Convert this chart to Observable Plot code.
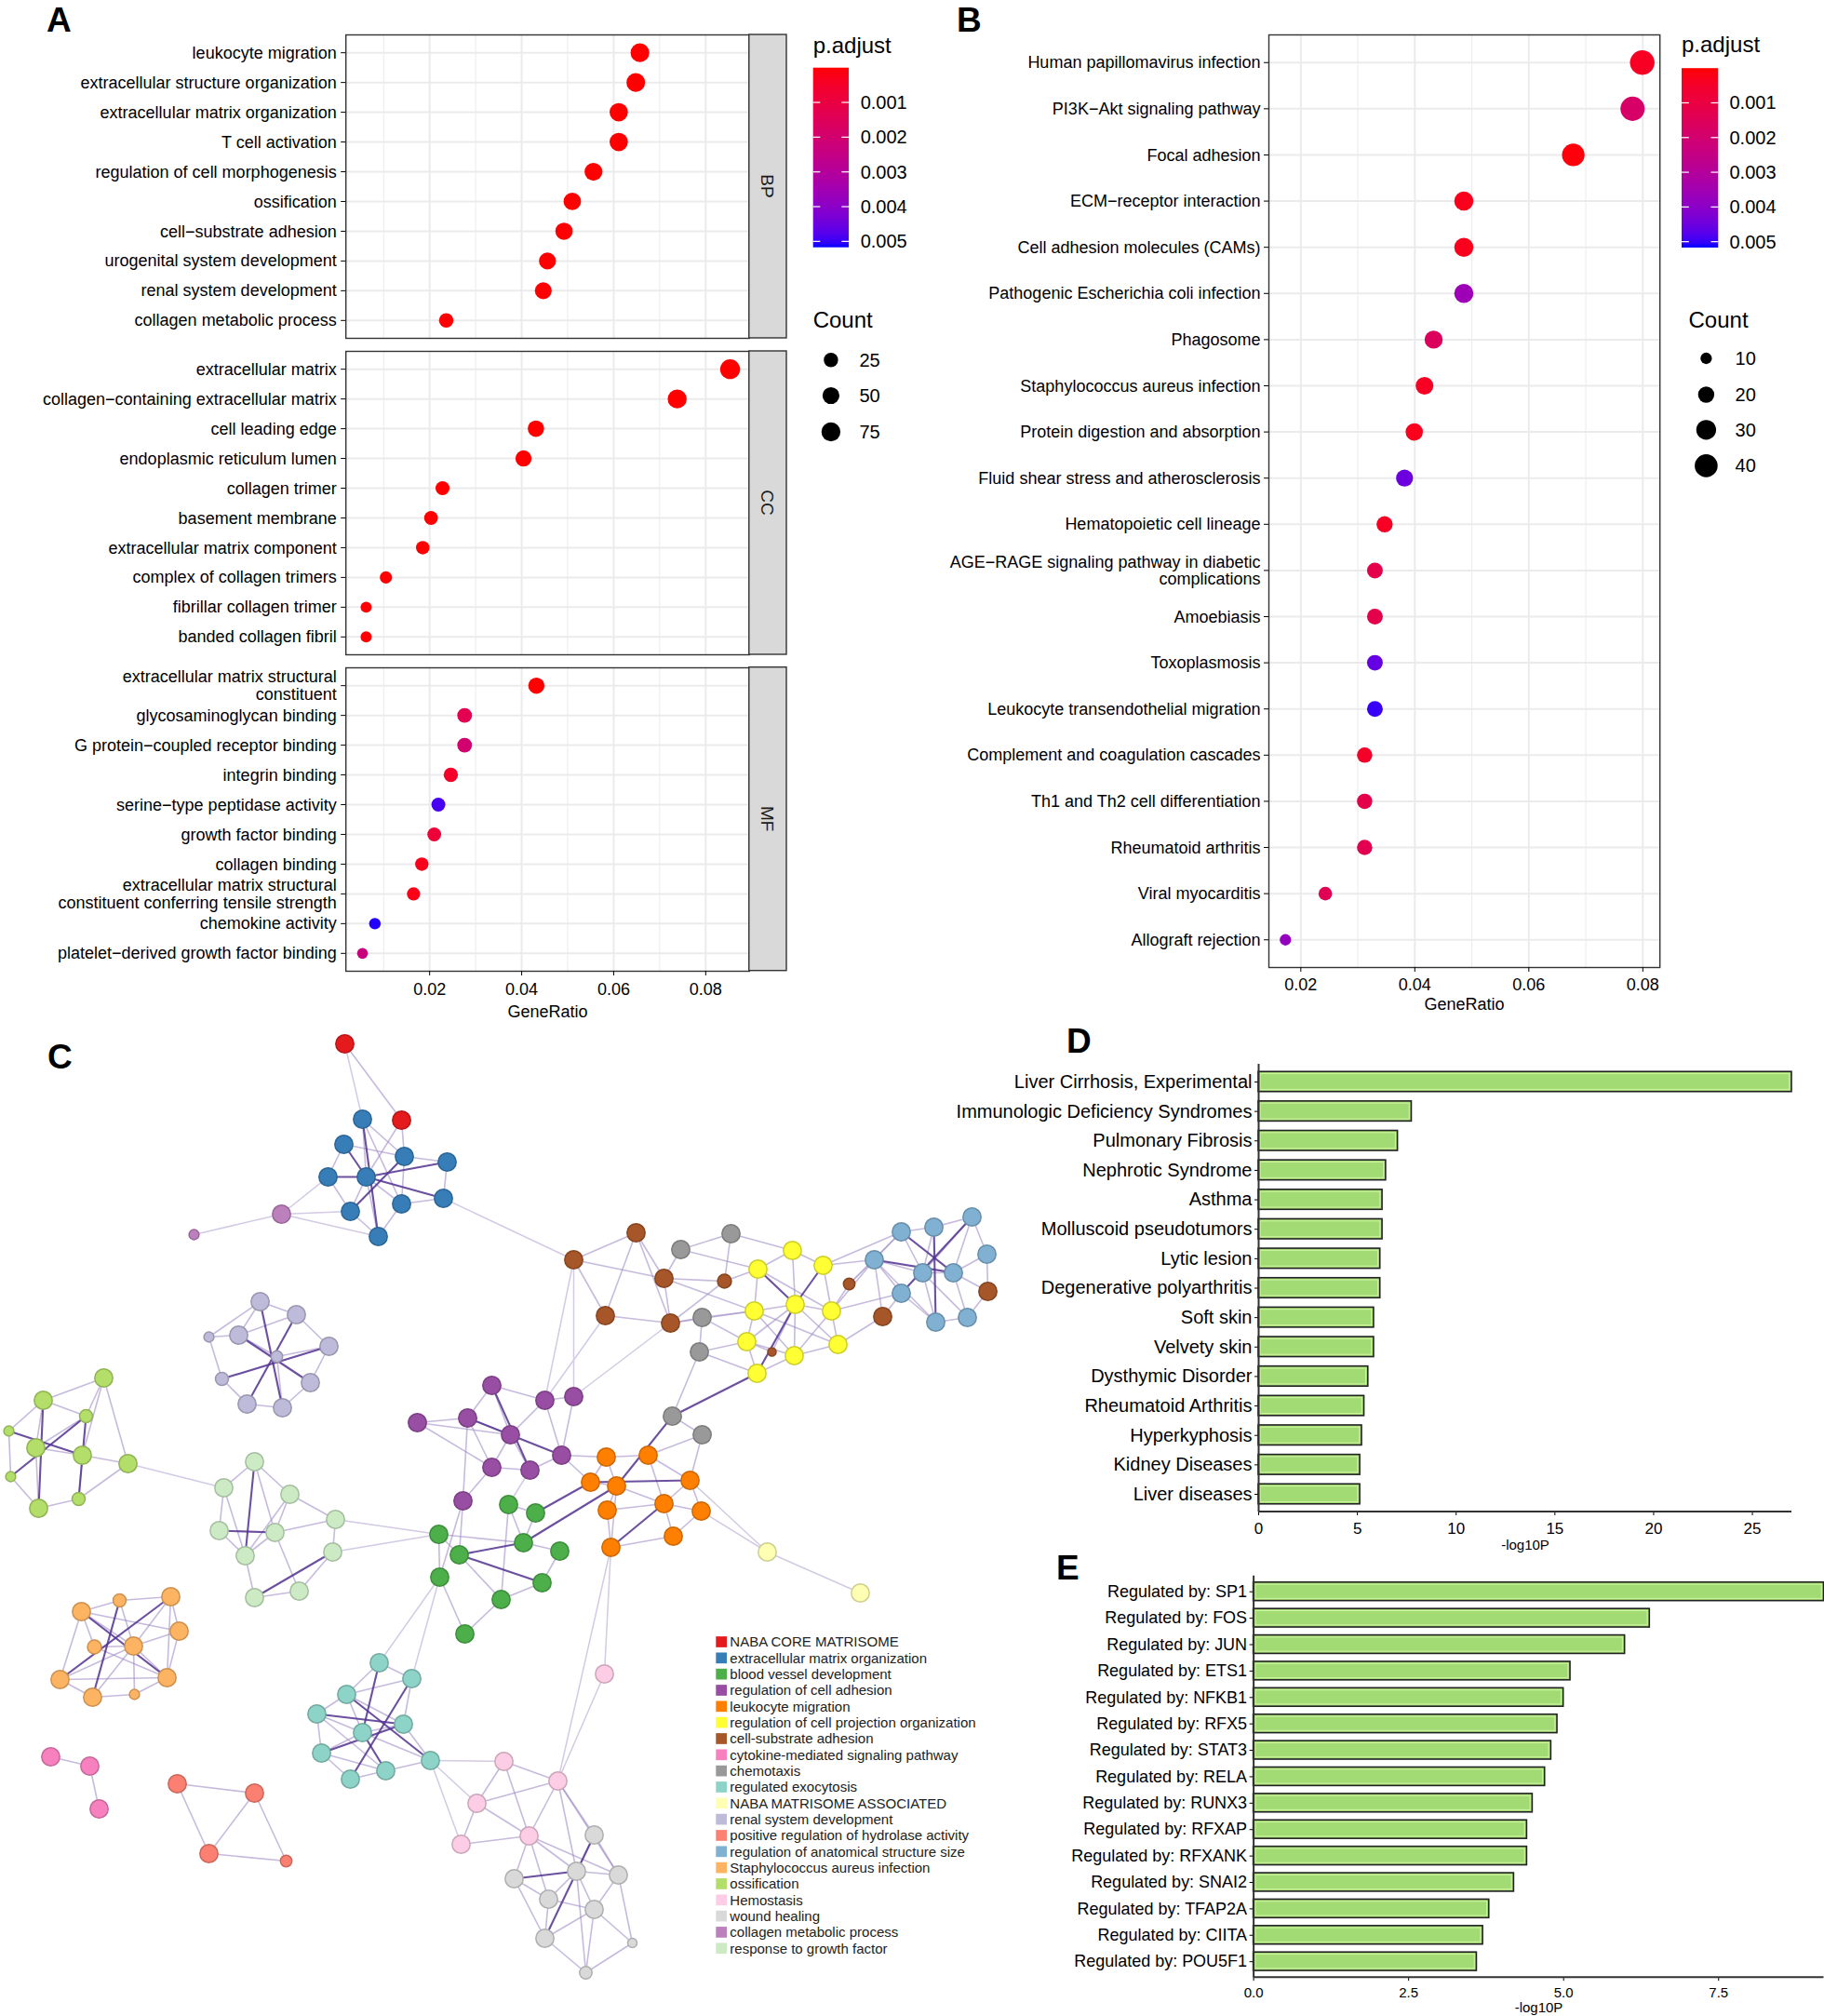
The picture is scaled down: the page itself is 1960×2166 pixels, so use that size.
<!DOCTYPE html>
<html><head><meta charset="utf-8">
<script src="https://cdn.jsdelivr.net/npm/d3@7"></script>
<script src="https://cdn.jsdelivr.net/npm/@observablehq/plot@0.6"></script>
<style>
html,body{margin:0;padding:0;background:#fff;}
#fig{position:relative;width:1960px;height:2166px;overflow:hidden;background:#fff;}
</style></head>
<body><div id="fig"></div>
<script>
// ---------------- DATA ----------------
// Panel A : GO enrichment (BP / CC / MF)
const bpTerms = ["leukocyte migration","extracellular structure organization","extracellular matrix organization","T cell activation","regulation of cell morphogenesis","ossification","cell\u2212substrate adhesion","urogenital system development","renal system development","collagen metabolic process"];
const bpRatio = [0.0657,0.0648,0.0611,0.0611,0.0556,0.0510,0.0492,0.0456,0.0447,0.0236];
const bpCount = [72,71,67,67,61,56,54,50,49,26];
const bpPadj  = [0.00001,0.00001,0.00001,0.00001,0.00001,0.00001,0.00002,0.00002,0.00002,0.00003];

const ccTerms = ["extracellular matrix","collagen\u2212containing extracellular matrix","cell leading edge","endoplasmic reticulum lumen","collagen trimer","basement membrane","extracellular matrix component","complex of collagen trimers","fibrillar collagen trimer","banded collagen fibril"];
const ccRatio = [0.0853,0.0738,0.0431,0.0404,0.0228,0.0203,0.0185,0.0105,0.0062,0.0062];
const ccCount = [88,76,44,42,23,21,19,11,6,6];
const ccPadj  = [0.00001,0.00001,0.00001,0.00002,0.00001,0.00002,0.00002,0.00003,0.00003,0.00003];

const mfTerms = ["extracellular matrix structural\nconstituent","glycosaminoglycan binding","G protein\u2212coupled receptor binding","integrin binding","serine\u2212type peptidase activity","growth factor binding","collagen binding","extracellular matrix structural\nconstituent conferring tensile strength","chemokine activity","platelet\u2212derived growth factor binding"];
const mfRatio = [0.0432,0.0276,0.0276,0.0246,0.0219,0.0210,0.0183,0.0165,0.0081,0.0054];
const mfCount = [43,28,28,25,22,21,18,17,8,5];
const mfPadj  = [0.00001,0.0013,0.0020,0.0005,0.0049,0.0008,0.0003,0.0002,0.0051,0.0023];

// Panel B : KEGG
const keggTerms = ["Human papillomavirus infection","PI3K\u2212Akt signaling pathway","Focal adhesion","ECM\u2212receptor interaction","Cell adhesion molecules (CAMs)","Pathogenic Escherichia coli infection","Phagosome","Staphylococcus aureus infection","Protein digestion and absorption","Fluid shear stress and atherosclerosis","Hematopoietic cell lineage","AGE\u2212RAGE signaling pathway in diabetic\ncomplications","Amoebiasis","Toxoplasmosis","Leukocyte transendothelial migration","Complement and coagulation cascades","Th1 and Th2 cell differentiation","Rheumatoid arthritis","Viral myocarditis","Allograft rejection"];
const keggRatio = [0.0799,0.0782,0.0678,0.0486,0.0486,0.0486,0.0433,0.0417,0.0399,0.0382,0.0347,0.0330,0.0330,0.0330,0.0330,0.0312,0.0312,0.0312,0.0243,0.0173];
const keggCount = [46,45,39,28,28,28,25,24,23,22,20,19,19,19,19,18,18,18,14,10];
const keggPadj  = [0.0004,0.0018,0.0001,0.0003,0.0003,0.0036,0.0016,0.0004,0.0003,0.0045,0.0004,0.0012,0.0012,0.0046,0.0050,0.0005,0.0012,0.0013,0.0014,0.0038];

const pBreaks = [0.001,0.002,0.003,0.004,0.005];
const pMax = 0.00517;
const countBreaksA = [25,50,75];
const countBreaksB = [10,20,30,40];
const ratioTicks = [0.02,0.04,0.06,0.08];

// Panel D : DisGeNET
const disTerms = ["Liver Cirrhosis, Experimental","Immunologic Deficiency Syndromes","Pulmonary Fibrosis","Nephrotic Syndrome","Asthma","Molluscoid pseudotumors","Lytic lesion","Degenerative polyarthritis","Soft skin","Velvety skin","Dysthymic Disorder","Rheumatoid Arthritis","Hyperkyphosis","Kidney Diseases","Liver diseases"];
const disLogP  = [27.0,7.75,7.05,6.45,6.27,6.27,6.16,6.16,5.84,5.84,5.55,5.35,5.23,5.14,5.14];
const disTicks = [0,5,10,15,20,25];

// Panel E : TRRUST
const tfTerms = ["Regulated by: SP1","Regulated by: FOS","Regulated by: JUN","Regulated by: ETS1","Regulated by: NFKB1","Regulated by: RFX5","Regulated by: STAT3","Regulated by: RELA","Regulated by: RUNX3","Regulated by: RFXAP","Regulated by: RFXANK","Regulated by: SNAI2","Regulated by: TFAP2A","Regulated by: CIITA","Regulated by: POU5F1"];
const tfLogP  = [9.2,6.39,5.99,5.11,5.00,4.90,4.80,4.70,4.50,4.41,4.41,4.20,3.80,3.70,3.60];
const tfTicks = [0,2.5,5,7.5];

// Panel C : Metascape network
const netClusters = ["NABA CORE MATRISOME","extracellular matrix organization","blood vessel development","regulation of cell adhesion","leukocyte migration","regulation of cell projection organization","cell-substrate adhesion","cytokine-mediated signaling pathway","chemotaxis","regulated exocytosis","NABA MATRISOME ASSOCIATED","renal system development","positive regulation of hydrolase activity","regulation of anatomical structure size","Staphylococcus aureus infection","ossification","Hemostasis","wound healing","collagen metabolic process","response to growth factor"];
const netColors = ["#E41A1C","#377EB8","#4DAF4A","#984EA3","#FF7F00","#FFFF33","#A65628","#F781BF","#999999","#8DD3C7","#FFFFB3","#BEBADA","#FB8072","#80B1D3","#FDB462","#B3DE69","#FCCDE5","#D9D9D9","#BC80BD","#CCEBC5"];
// [id, cluster, layoutX, layoutY, size]
const netNodes = [
["r1",0,370,21],["r2",0,431,103],
["b1",1,389,102],["b2",1,369,129],["b3",1,434,142],["b4",1,480,148],["b5",1,352,164],["b6",1,393,164],["b7",1,431,193],["b8",1,476,187],["b9",1,376,201],["b10",1,406,228],
["d1",2,471,548],["d2",2,493,570],["d3",2,472,594],["d4",2,546,516],["d5",2,562,557],["d6",2,538,618],["d7",2,499,655],["d8",2,601,566],["d9",2,582,600],["d10",2,575,525],
["p1",3,528,388],["p2",3,448,428],["p3",3,502,423],["p4",3,548,441],["p5",3,528,476],["p6",3,497,512],["p7",3,585,404],["p8",3,616,400],["p9",3,603,463],["p10",3,569,479],
["e1",4,651,465],["e2",4,696,463],["e3",4,634,492],["e4",4,662,496],["e5",4,741,490],["e6",4,652,522],["e7",4,713,515],["e8",4,753,523],["e9",4,723,550],["e10",4,656,562],
["k1",5,851,243],["k2",5,814,263],["k3",5,884,259],["k4",5,854,301],["k5",5,810,308],["k6",5,893,308],["k7",5,802,341],["k8",5,900,344],["k9",5,853,356],["k10",5,813,375],
["w1",6,683,224],["w2",6,616,253],["w3",6,713,273],["w4",6,778,276,7.5],["w5",6,650,313],["w6",6,720,321],["w7",6,912,279,6.2],["w8",6,948,314],["w9",6,829,352,4.5],["w10",6,1061,287],
["s1",7,54,787],["s2",7,96,797],["s3",7,106,843],
["h1",8,731,242],["h2",8,785,225],["h3",8,754,315],["h4",8,751,352],["h5",8,722,421],["h6",8,754,441],
["t1",9,407,686],["t2",9,442,703],["t3",9,372,720],["t4",9,340,741],["t5",9,433,752],["t6",9,389,761],["t7",9,345,783],["t8",9,414,802],["t9",9,376,811],["t10",9,462,791],
["x1",10,824,567],["x2",10,924,611],
["n1",11,279,298],["n2",11,318,312],["n3",11,256,334],["n4",11,224,336,5.4],["n5",11,353,346],["n6",11,297,357,6.2],["n7",11,238,381,7],["n8",11,333,385],["n9",11,265,408],["n10",11,303,412],
["z1",12,190,816],["z2",12,273,826],["z3",12,224,891],["z4",12,307,899,6.2],
["a1",13,968,223],["a2",13,1003,218],["a3",13,1044,207],["a4",13,939,253],["a5",13,1060,247],["a6",13,991,267],["a7",13,1024,267],["a8",13,968,289],["a9",13,1005,320],["a10",13,1039,315],
["f1",14,87,631],["f2",14,128,619,7],["f3",14,183,615],["f4",14,192,652],["f5",14,101,669,7.5],["f6",14,143,668],["f7",14,64,704],["f8",14,179,702],["f9",14,99,723],["f10",14,144,720,5.4],
["o1",15,111,380],["o2",15,46,404],["o3",15,92,421,7],["o4",15,9,437,5.4],["o5",15,38,455],["o6",15,88,463],["o7",15,137,472],["o8",15,11,486,5.4],["o9",15,84,510,7],["o10",15,41,520],
["m1",16,649,698],["m2",16,541,792],["m3",16,599,813],["m4",16,512,837],["m5",16,495,881],["m6",16,568,872],
["q1",17,638,871],["q2",17,552,918],["q3",17,619,910],["q4",17,664,914],["q5",17,589,940],["q6",17,638,951],["q7",17,585,982],["q8",17,679,987,5],["q9",17,629,1019,6.7],
["c1",18,302,204],["c2",18,208,226,5.4],
["g1",19,273,470],["g2",19,240,498],["g3",19,311,505],["g4",19,235,544],["g5",19,295,546],["g6",19,360,532],["g7",19,263,571],["g8",19,357,567],["g9",19,273,616],["g10",19,321,609]
];
const edgesStrong = ["b2-b6","b6-b4","b5-b6","b3-b9","b6-b8","b1-b10","n3-n8","n5-n7","n1-n10","n2-n9","o4-o6","o2-o10","o8-o3","o3-o9","g1-g7","g9-g8","g4-g5","p1-p10","p3-p9","d2-d5","d2-d9","d10-e3","d5-e4","e3-e5","e10-e7","h5-e4","h5-k10","k2-k4","k3-k4","k4-k10","a2-a9","a1-a7","a3-a8","a4-a7","t1-t6","t2-t9","t3-t10","t4-t5","t7-t5","t6-t8","f1-f8","f3-f7","f2-f9","q2-q3","q1-q7"];
const edgesLight = ["r1-r2","r2-b3","r2-b6","b1-b6","b1-b3","b3-b4","b3-b7","b4-b8","b5-b9","b6-b9","b6-b10","b7-b8","b7-b10","b9-b10","b2-b5","b1-b7","b6-b7","b2-b3",
"n1-n2","n1-n3","n3-n4","n4-n7","n2-n5","n5-n8","n8-n10","n9-n10","n7-n9","n3-n6","n6-n10","n4-n1","n2-n3","n6-n5",
"o1-o2","o1-o3","o1-o7","o2-o4","o2-o5","o3-o5","o5-o6","o6-o9","o7-o9","o8-o10","o9-o10","o4-o8","o2-o3","o1-o6","o5-o10","o6-o7",
"g1-g2","g2-g4","g2-g7","g3-g5","g3-g7","g4-g7","g5-g7","g6-g8","g6-g5","g7-g9","g9-g10","g8-g10","g5-g10","g3-g6","g1-g3","g1-g5",
"p1-p3","p1-p4","p1-p7","p2-p3","p2-p4","p3-p4","p4-p5","p4-p10","p5-p6","p5-p10","p7-p8","p7-p9","p8-p9","p9-p10","p3-p5","p4-p7","p2-p5","p3-p6",
"d1-d2","d1-d3","d3-d7","d4-d10","d4-d5","d5-d10","d5-d8","d8-d9","d6-d9","d6-d7","d4-d6","d1-d5","d2-d6","d2-p6","d3-p6",
"e1-e2","e1-e3","e1-e4","e2-e5","e3-e4","e4-e6","e6-e7","e7-e8","e5-e7","e5-e8","e8-e9","e9-e10","e6-e10","e7-e9","e4-e10","e2-e7","e1-p9","e3-p9","e4-e7",
"h1-h2","h3-h4","h5-h6","h6-e5","h6-e2","h4-h5",
"w1-w2","w1-w3","w2-w5","w1-w5","w3-w6","w5-w6","w1-w6","w2-w3","w3-w4","w6-w4","w3-h1","w4-k2","w4-h2","w6-h3","w6-k5","w3-k5",
"k1-k2","k1-k3","k1-k4","k4-k5","k4-k6","k4-k7","k4-k8","k4-k9","k5-k7","k7-k10","k9-k10","k6-k8","k2-k5","k3-k6","k5-k9","k7-k9","k8-k9","w9-k4","w9-k7","k6-k9","k5-k8","k2-k6",
"h3-k5","h4-k7","h3-k7","h4-k10","h1-k2","h2-k1","k6-a4","k3-a4","w7-k6","k8-w8","k3-a1","k6-a8","w7-a1",
"a1-a2","a2-a3","a1-a4","a1-a6","a2-a6","a3-a6","a3-a7","a3-a5","a4-a6","a4-a8","a5-a7","a6-a7","a6-a9","a7-a10","a7-w10","a8-a9","a9-a10","a10-w10","a5-w10","a4-a9","a6-a10","w8-a8","w8-a4",
"t1-t3","t1-t2","t2-t3","t3-t4","t3-t6","t3-t5","t4-t6","t4-t7","t5-t6","t5-t10","t6-t7","t7-t9","t7-t8","t8-t10","t8-t9","t4-t8","t2-t5","t6-t10",
"m2-m4","m2-m6","m4-m5","m4-m6","m4-m3","m5-m6","m3-m6","m2-m3","m3-q1","m3-q4","m6-q4","m6-q5","m6-q3","m3-q3","m6-q2",
"q1-q3","q1-q4","q3-q4","q3-q5","q3-q6","q2-q5","q5-q6","q5-q7","q6-q7","q4-q6","q7-q9","q6-q8","q3-q9","q8-q9","q4-q8","q2-q7","q6-q9",
"f1-f2","f1-f4","f1-f5","f1-f6","f1-f7","f2-f3","f2-f6","f3-f4","f4-f6","f4-f8","f5-f6","f5-f8","f6-f7","f6-f8","f6-f9","f7-f8","f7-f9","f8-f10","f9-f10","f6-f10","f3-f8","f3-f6",
"s1-s2","s2-s3","z1-z2","z1-z3","z2-z3","z2-z4","z3-z4"];
const edgesFaint = ["r1-b1","b8-w2","c1-b5","c1-b10","c1-c2","c1-b9","o7-g2","d1-g8","d1-g6","d3-t1","d3-t2","e10-m1","e10-m3","m1-m3","e5-x1","x1-x2","w2-p8","w6-p8","w5-p7","w2-p7","d4-p10","t10-m2","t10-m4","t10-m5","w7-a4","e8-x1"];

// ---------------- RENDER ----------------
const FONT = "'Liberation Sans', Arial, Helvetica, sans-serif";
const fig = document.getElementById("fig");
function place(el, left, top) {
  el.style.position = "absolute"; el.style.left = left + "px"; el.style.top = top + "px";
  fig.appendChild(el); return el;
}
const baseStyle = {background: "transparent", fontFamily: FONT, color: "#000", overflow: "visible", maxWidth: "none"};
const colorP = {type: "linear", domain: [0, pMax], range: ["#FF0000", "#0000FF"], interpolate: d3.interpolateLab};
const rA = {type: "pow", exponent: 0.5, domain: [0, 100], range: [4.3, 11.1]};
const rB = {type: "sqrt", domain: [0, 40], range: [0, 12.3]};

function dotPanel(o) {
  const data = o.terms.map((t, i) => ({term: t, ratio: o.ratio[i], count: o.count[i], p: o.padj[i]}));
  const marks = [
    Plot.ruleX(o.minors, {stroke: "#EBEBEB", strokeWidth: 1}),
    Plot.ruleX(o.majors, {stroke: "#EBEBEB", strokeWidth: 2}),
    Plot.ruleY(o.terms, {stroke: "#EBEBEB", strokeWidth: 2}),
    Plot.dot(data, {x: "ratio", y: "term", r: "count", fill: "p"}),
    Plot.frame({stroke: "#333", strokeWidth: 1.4}),
    Plot.axisY({tickSize: 5, tickPadding: o.yPad, fontSize: 18, lineHeight: 1.05, label: null})
  ];
  if (o.showX) {
    marks.push(Plot.axisX({ticks: o.majors, tickFormat: d3.format(".2f"), tickSize: 5, tickPadding: o.xPad, fontSize: 18, label: null}));
    marks.push(Plot.text(["GeneRatio"], {text: d => d, frameAnchor: "bottom", lineAnchor: "middle", dy: o.labDy, fontSize: 18}));
  }
  return Plot.plot({
    width: o.width, height: o.frameH + o.mt + o.mb,
    marginLeft: o.ml, marginRight: o.mr, marginTop: o.mt, marginBottom: o.mb,
    style: Object.assign({}, baseStyle, {fontSize: "18px"}),
    x: o.showX ? {domain: o.xDomain} : {domain: o.xDomain, axis: null},
    y: {type: "point", domain: o.terms, padding: 0.6, round: false},
    r: o.r, color: colorP, marks
  });
}

const aCommon = {width: 850, ml: 371.2, mr: 850 - 804.8, mt: 10, frameH: 326, xDomain: [0.0018, 0.0895],
  majors: ratioTicks, minors: [0.01,0.03,0.05,0.07], r: rA, yPad: 5, xPad: 7.5, labDy: 44};
place(dotPanel(Object.assign({}, aCommon, {terms: bpTerms, ratio: bpRatio, count: bpCount, padj: bpPadj, mb: 10, showX: false})), 0, 27);
place(dotPanel(Object.assign({}, aCommon, {terms: ccTerms, ratio: ccRatio, count: ccCount, padj: ccPadj, mb: 10, showX: false})), 0, 367);
place(dotPanel(Object.assign({}, aCommon, {terms: mfTerms, ratio: mfRatio, count: mfCount, padj: mfPadj, mb: 70, showX: true})), 0, 706.7);

place(dotPanel({terms: keggTerms, ratio: keggRatio, count: keggCount, padj: keggPadj, width: 790, ml: 363, mr: 790 - 783.2,
  mt: 10, mb: 70, frameH: 1002, xDomain: [0.0144, 0.083], majors: ratioTicks, minors: [0.03,0.05,0.07], r: rB,
  yPad: 4, xPad: 6.3, labDy: 39.6, showX: true}), 1000, 27);

function barPanel(o) {
  const data = o.terms.map((t, i) => ({term: t, v: o.vals[i]}));
  const svg = Plot.plot({
    width: o.width, height: o.frameH + o.mt + o.mb,
    marginLeft: o.ml, marginRight: o.mr, marginTop: o.mt, marginBottom: o.mb,
    style: Object.assign({}, baseStyle, {fontSize: o.labelSize + "px"}),
    x: {domain: [0, o.xmax]},
    y: {type: "band", domain: o.terms, paddingInner: o.pi, paddingOuter: o.po, round: false},
    marks: [
      Plot.barX(data, {x: "v", y: "term", fill: "#A2DB73", stroke: "#222", strokeWidth: 1.6}),
      Plot.barX(data, {x: "v", y: "term", fill: "none", stroke: "#CDF29F", strokeWidth: 1.1, insetTop: 2.3, insetBottom: 2.3, insetLeft: 2.2, insetRight: 2.2}),
      Plot.axisY({tickSize: 4, tickPadding: 3, fontSize: o.labelSize, label: null}),
      Plot.axisX({ticks: o.ticks, tickFormat: o.fmt, tickSize: 4, tickPadding: o.xPad, fontSize: o.tickFont, label: null}),
      Plot.ruleX([0], {stroke: "#333", strokeWidth: 2}),
      Plot.text(["-log10P"], {text: d => d, frameAnchor: "bottom", lineAnchor: "middle", dy: o.labDy, fontSize: 15})
    ]
  });
  const xr = svg.scale("x").range;
  d3.select(svg).append("line").attr("x1", xr[0]).attr("x2", xr[1])
    .attr("y1", o.mt + o.frameH).attr("y2", o.mt + o.frameH).attr("stroke", "#333").attr("stroke-width", 2);
  return svg;
}
place(barPanel({terms: disTerms, vals: disLogP, width: 960, ml: 352, mr: 35, mt: 43, frameH: 481, mb: 60,
  xmax: 27.0, ticks: disTicks, fmt: d => String(d), labelSize: 20, tickFont: 17, pi: 0.32, po: 0.26, xPad: 7, labDy: 36}), 1000, 1100);
place(barPanel({terms: tfTerms, vals: tfLogP, width: 960, ml: 346.6, mr: 0.5, mt: 42.7, frameH: 431.5, mb: 44,
  xmax: 9.2, ticks: tfTicks, fmt: d3.format(".1f"), labelSize: 18, tickFont: 15, pi: 0.30, po: 0.25, xPad: 6.5, labDy: 32.7}), 1000, 1650);

// network
const nodeIndex = new Map(netNodes.map(n => [n[0], n]));
function linkRows(list) {
  return list.map(s => { const [a, b] = s.split("-"); return {a: nodeIndex.get(a), b: nodeIndex.get(b)}; }).filter(e => e.a && e.b);
}
const linkOpts = {x1: e => e.a[2], y1: e => e.a[3], x2: e => e.b[2], y2: e => e.b[3]};
const net = Plot.plot({
  width: 1090, height: 1060, margin: 0,
  style: Object.assign({}, baseStyle, {fontSize: "12px"}),
  x: {domain: [0, 1090], range: [0, 1090], axis: null},
  y: {domain: [0, 1060], range: [0, 1060], axis: null},
  r: {type: "linear", domain: [0, 10], range: [0, 10]},
  color: {type: "identity"},
  marks: [
    Plot.link(linkRows(edgesFaint), Object.assign({stroke: "#D3CAE4", strokeWidth: 1.5}, linkOpts)),
    Plot.link(linkRows(edgesLight), Object.assign({stroke: "#A08CC6", strokeOpacity: 0.6, strokeWidth: 1.6}, linkOpts)),
    Plot.link(linkRows(edgesStrong), Object.assign({stroke: "#52318F", strokeOpacity: 0.85, strokeWidth: 2.1}, linkOpts)),
    Plot.dot(netNodes, {x: n => n[2], y: n => n[3], r: n => (n[4] !== undefined ? n[4] : 9.7),
      fill: n => netColors[n[1]], stroke: n => d3.color(netColors[n[1]]).darker(0.6).formatHex(), strokeWidth: 1.5})
  ]
});
place(net, 0, 1100);

// ---------------- OVERLAY (labels, strips, legends) ----------------
const ov = d3.select(fig).append("svg").attr("width", 1960).attr("height", 2166)
  .style("position", "absolute").style("left", "0px").style("top", "0px").style("font-family", FONT);
const defs = ov.append("defs");

[["A",50,34],["B",1028,34],["C",51,1148.3],["D",1146,1131.4],["E",1135,1696.7]].forEach(([t,x,y]) =>
  ov.append("text").attr("x", x).attr("y", y).attr("font-size", 37).attr("font-weight", "bold").attr("fill", "#000").text(t));

[["BP",37,363],["CC",377,703],["MF",716.7,1042.7]].forEach(([t,y0,y1]) => {
  ov.append("rect").attr("x", 804.8).attr("y", y0).attr("width", 40.2).attr("height", y1 - y0)
    .attr("fill", "#D9D9D9").attr("stroke", "#333").attr("stroke-width", 1.4);
  ov.append("text").attr("transform", `translate(${824.9},${(y0 + y1) / 2}) rotate(90)`)
    .attr("text-anchor", "middle").attr("dominant-baseline", "central").attr("font-size", 19).attr("fill", "#1A1A1A").text(t);
});

const pScale = Plot.scale({color: colorP});
function colorbar(id, x, y, w, h, labX, titleY) {
  ov.append("text").attr("x", x).attr("y", titleY).attr("font-size", 24).attr("fill", "#000").text("p.adjust");
  const g = defs.append("linearGradient").attr("id", id).attr("x1", 0).attr("y1", 0).attr("x2", 0).attr("y2", 1);
  for (let i = 0; i <= 40; i++) g.append("stop").attr("offset", i / 40).attr("stop-color", pScale.apply(i / 40 * pMax));
  ov.append("rect").attr("x", x).attr("y", y).attr("width", w).attr("height", h).attr("fill", `url(#${id})`);
  pBreaks.forEach(v => {
    const yy = y + h * v / pMax;
    ov.append("line").attr("x1", x).attr("x2", x + w / 5).attr("y1", yy).attr("y2", yy).attr("stroke", "#fff").attr("stroke-width", 1.2);
    ov.append("line").attr("x1", x + w - w / 5).attr("x2", x + w).attr("y1", yy).attr("y2", yy).attr("stroke", "#fff").attr("stroke-width", 1.2);
    ov.append("text").attr("x", labX).attr("y", yy + 7).attr("font-size", 20).attr("fill", "#000").text(d3.format(".3f")(v));
  });
}
function countLegend(rOpts, vals, x, ys, labX, titleX, titleY) {
  const rs = Plot.scale({r: rOpts});
  ov.append("text").attr("x", titleX).attr("y", titleY).attr("font-size", 24).attr("fill", "#000").text("Count");
  vals.forEach((v, i) => {
    ov.append("circle").attr("cx", x).attr("cy", ys[i]).attr("r", rs.apply(v)).attr("fill", "#000");
    ov.append("text").attr("x", labX).attr("y", ys[i] + 7).attr("font-size", 20).attr("fill", "#000").text(v);
  });
}
colorbar("gA", 873.7, 72.7, 38.3, 193, 924.7, 57);
countLegend(rA, countBreaksA, 892.9, [386.7, 425, 464], 923.5, 873.7, 351.7);
colorbar("gB", 1807, 73.2, 39.3, 192.8, 1858.5, 56);
countLegend(rB, countBreaksB, 1833.4, [385, 424, 461.8, 500.4], 1864.6, 1814.5, 351.8);

// network legend
netClusters.forEach((name, i) => {
  const yy = 1764 + i * 17.33;
  ov.append("rect").attr("x", 769.3).attr("y", yy - 5.85).attr("width", 11.7).attr("height", 11.7).attr("fill", netColors[i]);
  ov.append("text").attr("x", 784.3).attr("y", yy + 5.3).attr("font-size", 15).attr("fill", "#222").text(name);
});
</script></body></html>
